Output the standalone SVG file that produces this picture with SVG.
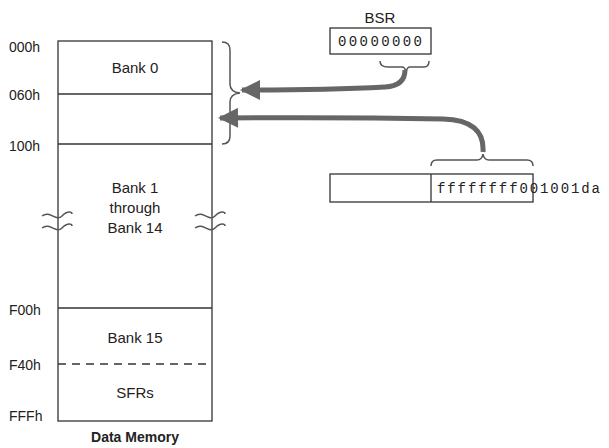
<svg xmlns="http://www.w3.org/2000/svg" width="609" height="448" viewBox="0 0 609 448">
<style>
.l{font-family:"Liberation Sans",Arial,sans-serif;font-size:14px;fill:#222}
.c{font-family:"Liberation Sans",Arial,sans-serif;font-size:15px;fill:#222;text-anchor:middle}
.m{font-family:"Liberation Mono","Courier New",monospace;font-size:14px;fill:#222}
.b{fill:#fff;stroke:#333;stroke-width:1.3}
.ln{stroke:#333;stroke-width:1.3;fill:none}
.br{stroke:#555;stroke-width:1.5;fill:none}
.ar{stroke:#666;stroke-width:5;fill:none}
</style>
<defs><marker id="ah" viewBox="0 0 10 10" refX="9" refY="5" markerWidth="5.5" markerHeight="4" orient="auto" markerUnits="strokeWidth"><path d="M0,0L10,5L0,10z" fill="#666"/></marker></defs>
<g id="memory">
<rect class="b" x="58" y="41" width="154" height="380"/>
<line class="ln" x1="58" y1="94" x2="212" y2="94"/>
<line class="ln" x1="58" y1="144" x2="212" y2="144"/>
<line class="ln" x1="58" y1="308" x2="212" y2="308"/>
<line class="ln" x1="58" y1="364" x2="212" y2="364" stroke-dasharray="8,6"/>
<path class="br" d="M42,216c8,-6 14,6 20,0s10,-4 10,-2M42,228c8,-6 14,6 20,0s10,-4 10,-2M195,216c8,-6 14,6 20,0s10,-4 10,-2M195,228c8,-6 14,6 20,0s10,-4 10,-2"/>
<text class="c" x="135" y="73">Bank 0</text>
<text class="c" x="135" y="193">Bank 1</text>
<text class="c" x="135" y="213">through</text>
<text class="c" x="135" y="233">Bank 14</text>
<text class="c" x="135" y="343">Bank 15</text>
<text class="c" x="135" y="398">SFRs</text>
<text class="l" x="9" y="52">000h</text>
<text class="l" x="9" y="100">060h</text>
<text class="l" x="9" y="151">100h</text>
<text class="l" x="9" y="315">F00h</text>
<text class="l" x="9" y="370">F40h</text>
<text class="l" x="9" y="421">FFFh</text>
<text x="135" y="442" style="font-family:'Liberation Sans',Arial,sans-serif;font-size:14px;font-weight:bold;text-anchor:middle;fill:#222">Data Memory</text>
<path class="br" d="M222,42q8,0 8,8v34q0,8 10,9q-10,1 -10,9v34q0,8 -8,8"/>
</g>
<g id="bsr">
<text class="c" x="380" y="23">BSR</text>
<rect class="b" x="330" y="28" width="101" height="26"/>
<text class="m" x="380" y="46" text-anchor="middle" font-size="12" textLength="84">00000000</text>
<path class="br" d="M380,61q0,6 8,6h14q3,0 4,5q1,-5 4,-5h14q5,0 5,-6"/>
</g>
<g id="address">
<rect class="b" x="330" y="174" width="203" height="28"/>
<line class="ln" x1="431" y1="174" x2="431" y2="202"/>
<text class="m" x="437" y="193" textLength="163">ffffffff001001da</text>
<path class="br" d="M431,166q0,-6 6,-6h40q5,0 6,-6q1,6 6,6h38q6,0 6,6"/>
</g>
<g id="connectors">
<path class="ar" d="M405,70q0,16 -20,17q-60,3 -143,3" marker-end="url(#ah)"/>
<path class="ar" d="M483,152q2,-32 -40,-33q-100,-2 -223,-1" marker-end="url(#ah)"/>
</g>
</svg>
